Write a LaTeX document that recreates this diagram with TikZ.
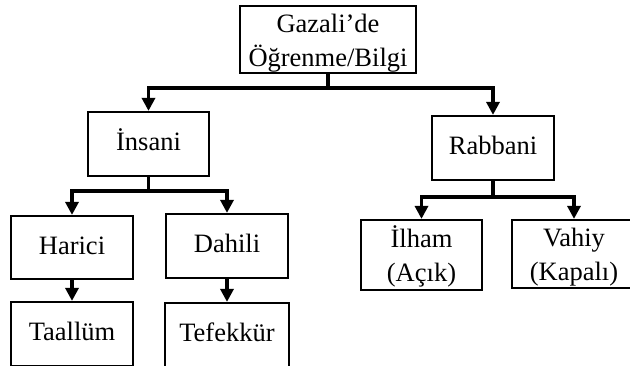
\documentclass[tikz,border=0pt]{standalone}
\usepackage{fontspec}
\setmainfont{Liberation Serif}
\usetikzlibrary{arrows.meta}
\begin{document}
\begin{tikzpicture}[x=1pt,y=-1pt,
  box/.style={draw=black,line width=2.2pt,inner sep=0pt,minimum width=122pt,minimum height=64pt,
    align=center,font=\fontsize{26.5}{34}\selectfont,text height=13pt,text depth=0pt},
  twoline/.style={text height=#1,text depth=0pt},
  conn/.style={line width=3.2pt,black},
  arr/.style={conn,-{Triangle[length=13pt,width=13pt]}}]
\useasboundingbox (0,0) rectangle (630,365);
\fill[white] (0,0) rectangle (630,365);
% boxes
\node[box,twoline=53pt,minimum width=176pt,minimum height=67pt] (top) at (328,39.5) {Gazali’de\\Öğrenme/Bilgi};
\node[box,minimum width=121pt] (insani) at (148.5,144) {İnsani};
\node[box] (rabbani) at (493,148) {Rabbani};
\node[box,minimum height=63pt] (harici) at (72,247.5) {Harici};
\node[box] (dahili) at (227,246) {Dahili};
\node[box] (taallum) at (72,334) {Taallüm};
\node[box,minimum width=124pt] (tefekkur) at (227,335) {Tefekkür};
\node[box,twoline=52pt,minimum width=121pt,minimum height=70pt] (ilham) at (421.5,255) {İlham\\(Açık)};
\node[box,twoline=52pt,minimum width=124pt,minimum height=68pt] (vahiy) at (574,254) {Vahiy\\(Kapalı)};
% junctions
\coordinate (j1) at (top.south |- 0,88);
\coordinate (j2) at (insani.south |- 0,191);
\coordinate (j3) at (rabbani.south |- 0,197);
% connectors
\draw[conn] (top.south) -- (j1);
\draw[arr] (j1) -| (insani.north);
\draw[arr] (j1) -| (rabbani.north);
\draw[conn] (insani.south) -- (j2);
\draw[arr] (j2) -| (harici.north);
\draw[arr] (j2) -| (dahili.north);
\draw[arr] (harici.south) -- (taallum.north);
\draw[arr] (dahili.south) -- (tefekkur.north);
\draw[conn] (rabbani.south) -- (j3);
\draw[arr] (j3) -| (ilham.north);
\draw[arr] (j3) -| (vahiy.north);
\end{tikzpicture}
\end{document}
